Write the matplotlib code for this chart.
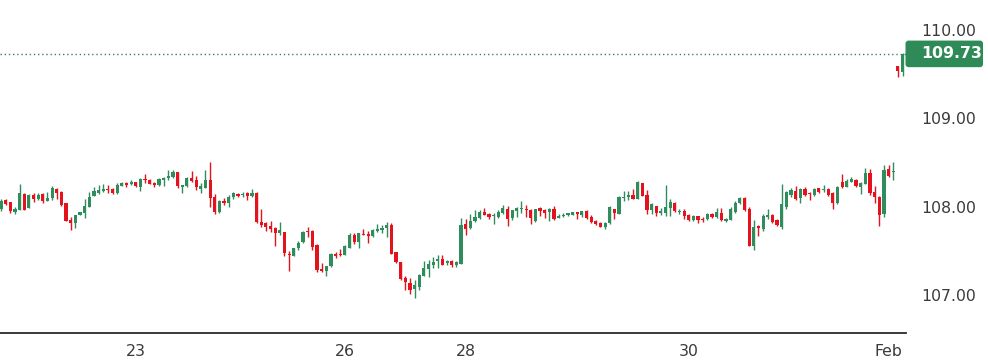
import matplotlib
matplotlib.use('Agg')
import matplotlib.pyplot as plt
import numpy as np
from matplotlib.patches import FancyBboxPatch
from matplotlib.transforms import IdentityTransform

opens = [
    107.970, 108.076, 108.050, 107.936, 107.963, 108.144, 107.989, 108.132, 108.087, 108.144,
    108.064, 108.095, 108.200, 108.170, 108.038, 107.849, 107.819, 107.906, 107.925, 108.000,
    108.121, 108.158, 108.174, 108.197, 108.200, 108.152, 108.238, 108.265, 108.257, 108.276,
    108.226, 108.313, 108.306, 108.272, 108.246, 108.306, 108.325, 108.340, 108.393, 108.226,
    108.234, 108.325, 108.299, 108.197, 108.215, 108.302, 108.110, 107.937, 108.068, 108.045,
    108.110, 108.147, 108.136, 108.158, 108.121, 108.158, 107.827, 107.819, 107.781, 107.759,
    107.706, 107.717, 107.468, 107.445, 107.532, 107.597, 107.725, 107.725, 107.566, 107.295,
    107.272, 107.325, 107.464, 107.468, 107.456, 107.536, 107.680, 107.597, 107.694, 107.694,
    107.668, 107.725, 107.733, 107.759, 107.793, 107.484, 107.374, 107.193, 107.136, 107.068,
    107.094, 107.219, 107.298, 107.340, 107.389, 107.408, 107.366, 107.385, 107.337, 107.351,
    107.807, 107.762, 107.835, 107.872, 107.940, 107.917, 107.891, 107.887, 107.929, 107.974,
    107.869, 107.955, 107.974, 107.974, 107.963, 107.835, 107.985, 107.963, 107.943, 107.974,
    107.876, 107.898, 107.906, 107.910, 107.940, 107.910, 107.951, 107.887, 107.841, 107.819,
    107.767, 107.812, 107.970, 107.921, 108.095, 108.106, 108.132, 108.087, 108.265, 108.132,
    107.963, 108.004, 107.929, 107.925, 107.989, 108.045, 107.944, 107.948, 107.906, 107.849,
    107.891, 107.864, 107.861, 107.921, 107.880, 107.932, 107.838, 107.849, 107.937, 108.045,
    108.098, 107.977, 107.558, 107.778, 107.744, 107.880, 107.906, 107.849, 107.773, 107.993,
    108.132, 108.181, 108.095, 108.200, 108.155, 108.132, 108.208, 108.186, 108.200, 108.158,
    108.038, 108.283, 108.226, 108.283, 108.306, 108.220, 108.260, 108.385, 108.166, 108.113,
    107.914, 108.427, 108.389, 109.593, 109.528,
]
closes = [
    108.068, 108.034, 107.951, 107.974, 108.158, 107.963, 108.136, 108.087, 108.132, 108.068,
    108.095, 108.215, 108.158, 108.019, 107.841, 107.819, 107.906, 107.940, 108.008, 108.113,
    108.178, 108.189, 108.197, 108.186, 108.158, 108.249, 108.265, 108.242, 108.276, 108.238,
    108.317, 108.302, 108.260, 108.249, 108.317, 108.325, 108.351, 108.393, 108.238, 108.249,
    108.328, 108.287, 108.226, 108.238, 108.306, 108.102, 107.937, 108.068, 108.042, 108.110,
    108.152, 108.121, 108.147, 108.121, 108.158, 107.823, 107.793, 107.767, 107.751, 107.706,
    107.736, 107.476, 107.456, 107.532, 107.592, 107.714, 107.710, 107.544, 107.283, 107.272,
    107.329, 107.468, 107.442, 107.453, 107.555, 107.680, 107.597, 107.699, 107.680, 107.672,
    107.736, 107.748, 107.755, 107.793, 107.468, 107.374, 107.181, 107.151, 107.060, 107.113,
    107.230, 107.306, 107.351, 107.377, 107.404, 107.343, 107.382, 107.337, 107.370, 107.796,
    107.748, 107.838, 107.883, 107.940, 107.906, 107.887, 107.898, 107.940, 107.989, 107.861,
    107.963, 107.989, 107.985, 107.963, 107.872, 107.970, 107.955, 107.932, 107.970, 107.861,
    107.898, 107.910, 107.925, 107.940, 107.921, 107.948, 107.869, 107.830, 107.804, 107.774,
    107.819, 107.997, 107.925, 108.113, 108.113, 108.132, 108.091, 108.276, 108.125, 107.963,
    108.027, 107.925, 107.948, 107.997, 108.053, 107.948, 107.955, 107.898, 107.853, 107.895,
    107.849, 107.846, 107.914, 107.880, 107.940, 107.849, 107.861, 107.974, 108.045, 108.102,
    107.963, 107.558, 107.767, 107.759, 107.898, 107.906, 107.827, 107.793, 108.030, 108.163,
    108.186, 108.084, 108.197, 108.132, 108.140, 108.200, 108.163, 108.204, 108.132, 108.045,
    108.226, 108.220, 108.294, 108.317, 108.234, 108.272, 108.385, 108.152, 108.113, 107.906,
    108.415, 108.347, 108.401, 109.540, 109.730,
]
highs = [
    108.087, 108.087, 108.057, 107.997, 108.260, 108.155, 108.144, 108.155, 108.155, 108.155,
    108.166, 108.238, 108.208, 108.172, 108.042, 107.883, 107.906, 107.940, 108.087, 108.166,
    108.226, 108.249, 108.257, 108.249, 108.206, 108.265, 108.283, 108.276, 108.302, 108.280,
    108.328, 108.370, 108.317, 108.274, 108.325, 108.331, 108.415, 108.415, 108.398, 108.251,
    108.339, 108.404, 108.347, 108.265, 108.415, 108.506, 108.140, 108.076, 108.095, 108.132,
    108.163, 108.158, 108.166, 108.161, 108.197, 108.161, 107.974, 107.830, 107.838, 107.773,
    107.827, 107.719, 107.498, 107.532, 107.612, 107.722, 107.770, 107.731, 107.572, 107.359,
    107.334, 107.472, 107.487, 107.518, 107.566, 107.699, 107.702, 107.702, 107.748, 107.725,
    107.751, 107.804, 107.793, 107.823, 107.819, 107.487, 107.377, 107.215, 107.189, 107.170,
    107.238, 107.385, 107.396, 107.434, 107.457, 107.450, 107.393, 107.396, 107.382, 107.872,
    107.864, 107.917, 107.959, 107.959, 107.985, 107.923, 107.925, 107.963, 108.019, 108.012,
    107.968, 107.993, 108.064, 108.023, 107.970, 107.974, 107.991, 107.974, 107.982, 108.012,
    107.914, 107.925, 107.932, 107.944, 107.944, 107.955, 107.963, 107.910, 107.844, 107.830,
    107.830, 108.008, 107.977, 108.121, 108.174, 108.174, 108.200, 108.291, 108.268, 108.189,
    108.045, 108.008, 107.985, 108.249, 108.084, 108.053, 107.974, 107.974, 107.917, 107.903,
    107.895, 107.883, 107.929, 107.923, 107.985, 107.982, 107.876, 108.000, 108.064, 108.113,
    108.106, 107.993, 107.849, 107.793, 107.917, 107.970, 107.921, 107.864, 108.257, 108.178,
    108.208, 108.234, 108.215, 108.220, 108.166, 108.212, 108.215, 108.246, 108.215, 108.170,
    108.234, 108.370, 108.313, 108.333, 108.317, 108.276, 108.438, 108.430, 108.234, 108.121,
    108.469, 108.472, 108.502, 109.593, 109.735,
]
lows = [
    107.955, 108.019, 107.932, 107.921, 107.957, 107.957, 107.985, 108.053, 108.079, 108.038,
    108.064, 108.079, 108.087, 108.008, 107.835, 107.736, 107.762, 107.903, 107.876, 107.993,
    108.121, 108.147, 108.163, 108.152, 108.147, 108.140, 108.234, 108.226, 108.249, 108.226,
    108.181, 108.272, 108.253, 108.226, 108.238, 108.238, 108.299, 108.328, 108.215, 108.158,
    108.220, 108.276, 108.192, 108.158, 108.215, 108.000, 107.921, 107.932, 108.016, 108.000,
    108.091, 108.113, 108.113, 108.076, 108.113, 107.812, 107.774, 107.728, 107.717, 107.558,
    107.676, 107.445, 107.276, 107.442, 107.510, 107.585, 107.660, 107.510, 107.264, 107.257,
    107.215, 107.317, 107.423, 107.442, 107.450, 107.532, 107.581, 107.536, 107.676, 107.592,
    107.660, 107.714, 107.706, 107.660, 107.464, 107.359, 107.170, 107.057, 107.008, 106.970,
    107.057, 107.212, 107.207, 107.310, 107.310, 107.337, 107.337, 107.321, 107.321, 107.348,
    107.683, 107.744, 107.823, 107.864, 107.903, 107.857, 107.804, 107.872, 107.914, 107.781,
    107.849, 107.887, 107.932, 107.887, 107.807, 107.827, 107.898, 107.876, 107.838, 107.849,
    107.869, 107.880, 107.898, 107.903, 107.864, 107.887, 107.866, 107.812, 107.789, 107.767,
    107.744, 107.804, 107.861, 107.914, 108.061, 108.076, 108.087, 108.084, 108.121, 107.914,
    107.921, 107.891, 107.910, 107.895, 107.895, 107.940, 107.921, 107.864, 107.841, 107.841,
    107.812, 107.830, 107.849, 107.869, 107.872, 107.841, 107.823, 107.846, 107.925, 108.030,
    107.955, 107.552, 107.506, 107.672, 107.728, 107.861, 107.819, 107.781, 107.751, 107.970,
    108.113, 108.076, 108.038, 108.125, 108.076, 108.125, 108.152, 108.163, 108.125, 107.974,
    108.027, 108.215, 108.220, 108.276, 108.226, 108.144, 108.253, 108.136, 108.045, 107.785,
    107.887, 108.339, 108.302, 109.465, 109.483,
]

x_tick_pos = [29, 74, 100, 148, 191]
x_tick_labels = ['23', '26', '28', '30', 'Feb']
y_ticks = [107.0, 108.0, 109.0, 110.0]
last_price = closes[-1]

GREEN = '#2f8c5c'
RED = '#e3121d'
LABEL_GREEN = '#2e8b57'
TEXT = '#3b3b3b'

W, H = 988, 364
fig = plt.figure(figsize=(W / 100, H / 100), dpi=100)
ax = fig.add_axes([0, 1 - 333 / H, 906 / W, 333 / H])

o = np.array(opens); c = np.array(closes)
hi = np.array(highs); lo = np.array(lows)
x = np.arange(len(o))
up = c >= o
cols = np.where(up, GREEN, RED)

ax.vlines(x, lo, hi, colors=cols, linewidth=1.0, zorder=2)
bottoms = np.minimum(o, c)
heights = np.maximum(np.abs(c - o), 0.012)
ax.bar(x, heights, bottom=bottoms, width=0.68, color=cols, linewidth=0, zorder=3)

ax.axhline(last_price, color='#3f7f60', linestyle=(0, (1, 2)), linewidth=1.0, zorder=1)

ax.set_xlim(-0.215, 194.75)
ax.set_ylim(106.57, 110.34)

for s in ['top', 'left', 'right']:
    ax.spines[s].set_visible(False)
ax.spines['bottom'].set_color('#2a2a2a')
ax.spines['bottom'].set_linewidth(1.3)

ax.yaxis.tick_right()
ax.set_yticks(y_ticks)
ax.set_yticklabels(['%.2f' % v for v in y_ticks])
ax.set_xticks(x_tick_pos)
ax.set_xticklabels(x_tick_labels)
ax.tick_params(axis='y', length=0, pad=11, labelsize=11.3, colors=TEXT)
ax.tick_params(axis='x', length=0, pad=8, labelsize=11.3, colors=TEXT)
ax.set_facecolor('white')

# price label box on the right axis
fig.canvas.draw()
y_disp = ax.transData.transform((0, last_price))[1]
box = FancyBboxPatch((905.5, y_disp - 13.3), 77.5, 26.6,
                     boxstyle='round,pad=0,rounding_size=3',
                     transform=IdentityTransform(), fc=LABEL_GREEN, ec='none', zorder=5)
fig.add_artist(box)
fig.text(921 / W, y_disp / H, '%.2f' % last_price, ha='left', va='center',
         color='white', fontsize=11.3, fontweight='bold', zorder=6)

fig.savefig('out.png', dpi=100, facecolor='white')
